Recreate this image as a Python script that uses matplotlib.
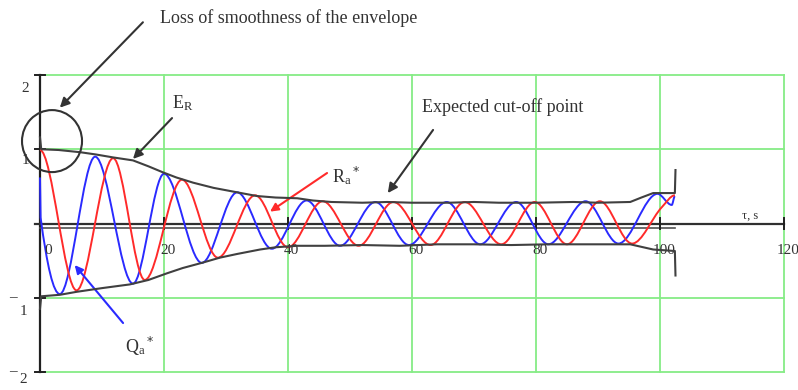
import numpy as np
import matplotlib
matplotlib.use("Agg")
from matplotlib import pyplot as plt
from matplotlib.path import Path
from matplotlib.patches import PathPatch, Ellipse

plt.rcParams['font.family'] = ['Liberation Serif', 'DejaVu Serif']

# extrema of R_a* (red)
r_t = [0, 5.9, 11.8, 16.9, 22.9, 28.7, 34.7, 40.0, 45.6, 51.4, 57.0, 63.0,
       68.5, 74.4, 79.8, 85.0, 90.3, 95.5, 100.3, 102.4]
r_v = [0.99, -0.90, 0.88, -0.76, 0.59, -0.46, 0.38, -0.32, 0.30, -0.30, 0.29, -0.29,
       0.29, -0.28, 0.29, -0.28, 0.30, -0.27, 0.22, 0.38]

# extrema of Q_a* (blue)
q_t = [0, 0.1, 3.2, 8.9, 15.0, 20.0, 26.1, 31.8, 37.4, 43.0, 48.4, 54.1, 59.5,
       65.6, 71.0, 76.8, 82.0, 88.0, 93.3, 99.6, 101.9, 102.4]
q_v = [0.62, 0.08, -0.95, 0.90, -0.81, 0.67, -0.53, 0.42, -0.34, 0.31, -0.30, 0.29, -0.29,
       0.29, -0.28, 0.29, -0.28, 0.30, -0.27, 0.40, 0.25, 0.37]

# envelope E_R, upper and lower branch
eu_t = [0, 0.2, 3, 6.5, 9, 11.8, 15, 17.5, 19.8, 22, 24.7, 28, 31.8, 35, 38, 41.5,
        44, 47, 52, 56, 60, 66, 70, 74, 80, 86, 90, 95.2, 97, 98.9, 102.4, 102.5]
eu_v = [1.16, 1.00, 0.99, 0.96, 0.93, 0.89, 0.85, 0.77, 0.69, 0.62, 0.55, 0.48, 0.42, 0.37, 0.35, 0.34,
        0.31, 0.29, 0.28, 0.29, 0.28, 0.28, 0.29, 0.28, 0.28, 0.29, 0.28, 0.29, 0.35, 0.41, 0.41, 0.72]
el_t = [0, 0.2, 3.2, 5.9, 10, 14.5, 17.5, 20.5, 23, 26.1, 29, 31.8, 35.5, 38, 41.5,
        46, 52, 58, 64, 70, 76, 82, 88, 95.2, 98.9, 102.4, 102.5]
el_v = [-1.15, -0.98, -0.96, -0.92, -0.87, -0.82, -0.76, -0.67, -0.60, -0.53, -0.46, -0.41, -0.35, -0.32, -0.30,
        -0.30, -0.29, -0.30, -0.28, -0.28, -0.29, -0.28, -0.28, -0.28, -0.35, -0.37, -0.70]

# second line just under the t axis
mean_t = [0, 102.4]
mean_v = [-0.055, -0.055]

x_ticks = [20, 40, 60, 80, 100, 120]
y_grid = [2, 1, -1, -2]

GREEN = '#86ec86'
RED = '#ff2a2a'
BLUE = '#2a2aff'
GREY = '#404040'


def smooth_path(ts, ys):
    # cubic hermite (pchip like) through the read points, drawn as bezier
    ts = np.asarray(ts, float)
    ys = np.asarray(ys, float)
    h = np.diff(ts)
    d = np.diff(ys) / h
    m = np.zeros(len(ts))
    for i in range(1, len(ts) - 1):
        if d[i - 1] * d[i] > 0:
            m[i] = 2.0 / (1.0 / d[i - 1] + 1.0 / d[i])
    verts = [(ts[0], ys[0])]
    codes = [Path.MOVETO]
    for i in range(len(ts) - 1):
        verts += [(ts[i] + h[i] / 3, ys[i] + m[i] * h[i] / 3),
                  (ts[i + 1] - h[i] / 3, ys[i + 1] - m[i + 1] * h[i] / 3),
                  (ts[i + 1], ys[i + 1])]
        codes += [Path.CURVE4] * 3
    return Path(verts, codes)


fig = plt.figure(figsize=(7.98, 3.9), dpi=100)
ax = fig.add_axes([0, 0, 1, 1])
ax.set_xlim(-6.45, 122.26)
ax.set_ylim(-2.242, 3.010)
ax.axis('off')

# green grid
for x in [0] + x_ticks:
    ax.plot([x, x], [-2, 2], color=GREEN, lw=1.3, zorder=1)
for y in y_grid:
    ax.plot([0, 120], [y, y], color=GREEN, lw=1.3, zorder=1)

# black axes
ax.plot([0, 0], [-2, 2], color='#202020', lw=1.6, zorder=2)
ax.plot([-0.8, 120], [0, 0], color='#303030', lw=1.6, zorder=2)
ax.plot(mean_t, mean_v, color='#505050', lw=1.2, zorder=2)
for y in y_grid:
    ax.plot([-0.8, 0.8], [y, y], color='#202020', lw=1.4, zorder=2)
for x in x_ticks:
    ax.plot([x, x], [-0.08, 0.08], color='#202020', lw=1.4, zorder=2)

# curves
ax.add_patch(PathPatch(smooth_path(q_t, q_v), facecolor='none', edgecolor=BLUE, lw=1.4, zorder=3))
ax.add_patch(PathPatch(smooth_path(r_t, r_v), facecolor='none', edgecolor=RED, lw=1.4, zorder=3))
ax.plot(eu_t, eu_v, color=GREY, lw=1.5, zorder=4)
ax.plot(el_t, el_v, color=GREY, lw=1.5, zorder=4)

# tick labels
ax.text(1.3, -0.36, '0', fontsize=11, color='#333333', ha='center', va='center')
for x in x_ticks:
    ax.text(x + 0.6, -0.36, str(x), fontsize=11, color='#333333', ha='center', va='center')
ax.text(-2.4, 1.82, '2', fontsize=11, color='#333333', ha='center', va='center')
ax.text(-2.4, 0.855, '1', fontsize=11, color='#333333', ha='center', va='center')
for y in [-1, -2]:
    ax.text(-4.35, y, '\u2013', fontsize=11, color='#333333', ha='center', va='center')
ax.text(-2.74, -1.19, '1', fontsize=11, color='#333333', ha='center', va='center')
ax.text(-2.74, -2.10, '2', fontsize=11, color='#333333', ha='center', va='center')
ax.text(114.5, 0.11, '\u03c4, s', fontsize=9, color='#333333', ha='center', va='center')

# annotations
ax.add_patch(Ellipse((1.94, 1.11), 9.68, 0.835, facecolor='none', edgecolor='#333333', lw=1.5, zorder=5))
arrow = dict(arrowstyle='-|>', color='#333333', lw=1.5, mutation_scale=14, shrinkA=0, shrinkB=0)
ax.text(19.35, 2.77, 'Loss of smoothness of the envelope', fontsize=13, color='#333333', va='center')
ax.annotate('', xy=(3.2, 1.56), xytext=(16.6, 2.71), arrowprops=arrow)
ax.text(21.3, 1.62, '$\\mathregular{E_R}$', fontsize=13, color='#333333', va='center')
ax.annotate('', xy=(15.0, 0.87), xytext=(21.3, 1.42), arrowprops=arrow)
ax.text(61.6, 1.57, 'Expected cut-off point', fontsize=13, color='#333333', va='center')
ax.annotate('', xy=(56.1, 0.41), xytext=(63.4, 1.26), arrowprops=arrow)
ax.text(47.1, 0.64, '$\\mathregular{R_a}^*$', fontsize=13, color='#333333', va='center')
ax.annotate('', xy=(37.1, 0.16), xytext=(46.3, 0.68),
            arrowprops=dict(arrowstyle='-|>', color=RED, lw=1.5, mutation_scale=12, shrinkA=0, shrinkB=0))
ax.text(13.7, -1.66, '$\\mathregular{Q_a}^*$', fontsize=13, color='#333333', va='center')
ax.annotate('', xy=(5.6, -0.56), xytext=(13.4, -1.34),
            arrowprops=dict(arrowstyle='-|>', color=BLUE, lw=1.5, mutation_scale=12, shrinkA=0, shrinkB=0))

fig.savefig('out.png', dpi=100)
